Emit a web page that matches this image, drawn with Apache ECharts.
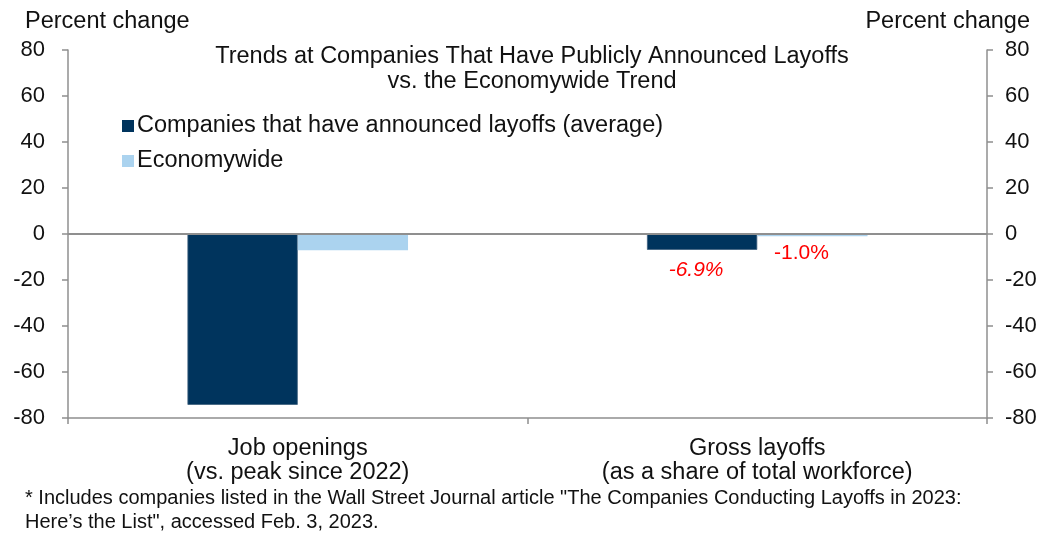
<!DOCTYPE html>
<html>
<head>
<meta charset="utf-8">
<script src="https://cdn.jsdelivr.net/npm/echarts@6/dist/echarts.min.js"></script>
<style>
  html, body { margin: 0; padding: 0; background: #fff; }
  #chart { width: 1053px; height: 537px; }
</style>
</head>
<body>
<div id="chart"></div>
<script>
// Category labels (two lines each)
const categories = [
  'Job openings\n(vs. peak since 2022)',
  'Gross layoffs\n(as a share of total workforce)'
];
// Percent change values
const companiesValues = [-74.3, -6.9];
const economywideValues = [-7.1, -1.0];
// Y axis range shared by both sides
const yMin = -80;
const yMax = 80;
const yStep = 20;
// Which category carries value labels
const labelledCategory = 1;

const FONT = '"Liberation Sans", Arial, sans-serif';
const AXIS_GRAY = '#8f8f8f';
const DARK = '#00345d';
const LIGHT = '#abd3ef';
const TEXT = '#111';

function withLabels(values, labelOpts) {
  return values.map((v, i) => {
    if (i !== labelledCategory) return v;
    return { value: v, label: Object.assign({ show: true }, labelOpts) };
  });
}

function valueAxis(position, margin) {
  return {
    type: 'value',
    position: position,
    min: yMin,
    max: yMax,
    interval: yStep,
    splitLine: { show: false },
    axisLine: { show: true, lineStyle: { color: AXIS_GRAY, width: 1.5 } },
    axisTick: { show: true, length: 6, inside: false, lineStyle: { color: AXIS_GRAY, width: 1.5 } },
    axisLabel: { color: TEXT, fontSize: 22, fontFamily: FONT, margin: margin }
  };
}

const chart = echarts.init(document.getElementById('chart'), null, { renderer: 'canvas' });

chart.setOption({
  backgroundColor: '#fff',
  animation: false,
  title: {
    text: 'Trends at Companies That Have Publicly Announced Layoffs\nvs. the Economywide Trend',
    left: 527,
    textAlign: 'center',
    top: 39,
    textStyle: { color: TEXT, fontSize: 23.5, fontWeight: 'normal', fontFamily: FONT, lineHeight: 25 }
  },
  legend: {
    orient: 'vertical',
    left: 117,
    top: 109,
    itemWidth: 12,
    itemHeight: 12,
    itemGap: 11,
    icon: 'rect',
    itemStyle: { borderWidth: 0 },
    textStyle: { color: TEXT, fontSize: 23.5, fontFamily: FONT, padding: [0, 0, 0, -2] },
    data: ['Companies that have announced layoffs (average)', 'Economywide']
  },
  grid: { left: 68, right: 66, top: 50, bottom: 119, containLabel: false },
  xAxis: {
    type: 'category',
    data: categories,
    axisLine: { show: true, onZero: false, lineStyle: { color: AXIS_GRAY, width: 1.5 } },
    axisTick: { show: true, length: 6, lineStyle: { color: AXIS_GRAY, width: 1.5 } },
    axisLabel: { color: TEXT, fontSize: 23.5, fontFamily: FONT, lineHeight: 24, margin: 19, interval: 0 }
  },
  yAxis: [valueAxis('left', 23), valueAxis('right', 18)],
  graphic: [
    { type: 'text', left: 25, top: 10, style: { text: 'Percent change', fill: TEXT, font: '23.5px ' + FONT } },
    { type: 'text', right: 23, top: 10, style: { text: 'Percent change', fill: TEXT, font: '23.5px ' + FONT } },
    {
      type: 'text', left: 25, top: 486,
      style: {
        text: '* Includes companies listed in the Wall Street Journal article "The Companies Conducting Layoffs in 2023:\nHere\u2019s the List", accessed Feb. 3, 2023.',
        fill: TEXT, font: '20px ' + FONT, lineHeight: 24
      }
    }
  ],
  series: [
    {
      name: 'Companies that have announced layoffs (average)',
      type: 'bar',
      yAxisIndex: 0,
      barGap: '0%',
      barCategoryGap: '52%',
      itemStyle: { color: DARK, borderColor: '#3d5f7d', borderWidth: 0.8 },
      data: withLabels(companiesValues, {
        position: 'bottom', distance: 10, offset: [-6, 0],
        color: '#ff0000', fontSize: 21, fontStyle: 'italic', fontFamily: FONT,
        formatter: p => p.value.toFixed(1) + '%'
      }),
      markLine: {
        silent: true,
        symbol: 'none',
        label: { show: false },
        lineStyle: { color: AXIS_GRAY, width: 2, type: 'solid' },
        data: [{ yAxis: 0 }]
      }
    },
    {
      name: 'Economywide',
      type: 'bar',
      yAxisIndex: 0,
      itemStyle: { color: LIGHT },
      data: withLabels(economywideValues, {
        position: 'bottom', distance: 6, offset: [-11, 0],
        color: '#ff0000', fontSize: 21, fontFamily: FONT,
        formatter: p => p.value.toFixed(1) + '%'
      })
    }
  ]
});
</script>
</body>
</html>
